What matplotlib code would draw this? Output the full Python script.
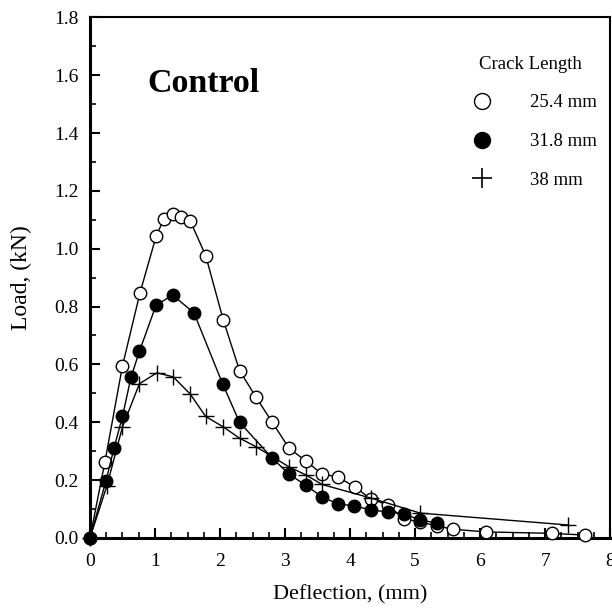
import matplotlib
matplotlib.use("Agg")
import matplotlib.pyplot as plt
from matplotlib.lines import Line2D
from matplotlib.ticker import MultipleLocator

plt.rcParams['font.family'] = ['Liberation Serif', 'DejaVu Serif']

# 25.4 mm crack length (open circles)
d_254 = [0, 0.23, 0.50, 0.77, 1.02, 1.14, 1.27, 1.40, 1.54, 1.78, 2.05, 2.30, 2.55, 2.80,
         3.06, 3.32, 3.57, 3.81, 4.07, 4.32, 4.58, 4.83, 5.08, 5.33, 5.59, 6.09, 7.10, 7.62]
L_254 = [0, 0.263, 0.595, 0.848, 1.045, 1.104, 1.121, 1.111, 1.097, 0.976, 0.754, 0.579, 0.488, 0.401,
         0.311, 0.266, 0.221, 0.211, 0.177, 0.135, 0.114, 0.066, 0.055, 0.042, 0.030, 0.021, 0.016, 0.010]

# 31.8 mm crack length (filled circles)
d_318 = [0, 0.246, 0.37, 0.50, 0.63, 0.76, 1.015, 1.27, 1.60, 2.04, 2.30, 2.80, 3.06, 3.32,
         3.57, 3.81, 4.06, 4.32, 4.58, 4.83, 5.08, 5.33]
L_318 = [0, 0.197, 0.311, 0.420, 0.555, 0.645, 0.804, 0.840, 0.778, 0.533, 0.400, 0.277, 0.221, 0.182,
         0.142, 0.118, 0.111, 0.097, 0.090, 0.083, 0.062, 0.052]

# 38 mm crack length (plus)
d_38 = [0, 0.26, 0.50, 0.76, 1.03, 1.28, 1.54, 1.78, 2.05, 2.30, 2.55, 3.06, 3.32, 3.57,
        4.32, 5.08, 7.35]
L_38 = [0, 0.180, 0.384, 0.533, 0.571, 0.557, 0.498, 0.420, 0.384, 0.345, 0.316, 0.246, 0.218, 0.185,
        0.138, 0.086, 0.045]

x_ticks = [0, 1, 2, 3, 4, 5, 6, 7, 8]
y_ticks = [0.0, 0.2, 0.4, 0.6, 0.8, 1.0, 1.2, 1.4, 1.6, 1.8]
series_labels = ['25.4 mm', '31.8 mm', '38 mm']

fig = plt.figure(figsize=(6.12, 6.09), dpi=100)
ax = fig.add_axes([0.147, 0.1166, 0.850, 0.855])

ax.plot(d_254, L_254, '-', color='black', lw=1.0, marker='o', ms=9, mfc='white',
        mec='black', mew=1.0, clip_on=False, zorder=3)
ax.plot(d_318, L_318, '-', color='black', lw=1.0, marker='o', ms=9, mfc='black',
        mec='black', clip_on=False, zorder=4)
ax.plot(d_38, L_38, '-', color='black', lw=1.0, marker='+', ms=11, mew=1.0,
        clip_on=False, zorder=5)

ax.set_xlim(0, 8)
ax.set_ylim(0, 1.8)
ax.set_xticks(x_ticks)
ax.set_yticks(y_ticks)
ax.set_xticklabels([str(v) for v in x_ticks])
ax.set_yticklabels([f"{v:.1f}" for v in y_ticks])
ax.xaxis.set_minor_locator(MultipleLocator(0.25))
ax.yaxis.set_minor_locator(MultipleLocator(0.1))
ax.tick_params(axis='both', which='major', direction='in', length=7, width=1.5,
               labelsize=14, top=False, right=False)
ax.tick_params(axis='both', which='minor', direction='in', length=4, width=1.2,
               top=False, right=False)
ax.tick_params(axis='x', which='major', pad=11)
ax.tick_params(axis='y', which='major', pad=8)

for s in ['left', 'bottom']:
    ax.spines[s].set_linewidth(2.2)
for s in ['top', 'right']:
    ax.spines[s].set_linewidth(1.5)

ax.set_xlabel('Deflection, (mm)', fontsize=16, labelpad=11)
ax.set_ylabel('Load, (kN)', fontsize=17, labelpad=16)

ax.text(0.11, 0.872, 'Control', transform=ax.transAxes, fontsize=24.5, fontweight='bold',
        va='center', ha='left')

handles = [
    Line2D([], [], ls='none', marker='o', ms=11.5, mfc='white', mec='black', mew=1.0),
    Line2D([], [], ls='none', marker='o', ms=11.5, mfc='black', mec='black'),
    Line2D([], [], ls='none', marker='+', ms=14.5, mew=1.2, color='black'),
]
leg = ax.legend(handles, series_labels, title='Crack Length',
                loc='upper left', bbox_to_anchor=(0.707, 0.937), frameon=False,
                fontsize=13.5, title_fontsize=13.5, handletextpad=1.55,
                handlelength=2.0, labelspacing=1.15, borderpad=0.3, borderaxespad=0)

fig.savefig('out.png', dpi=100)
